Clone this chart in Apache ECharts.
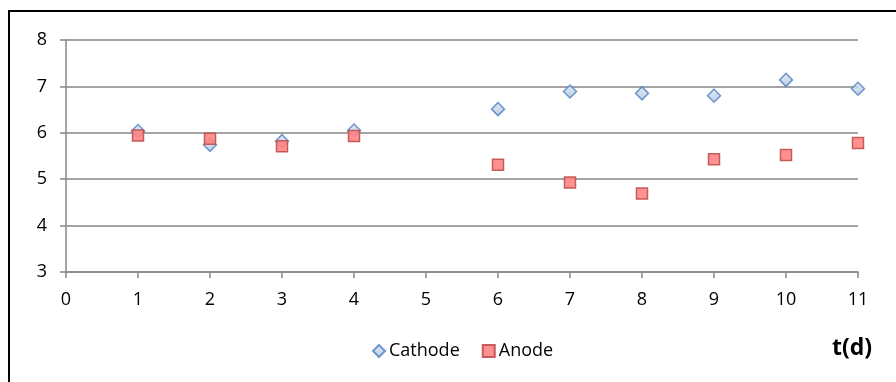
<!DOCTYPE html>
<html>
<head>
<meta charset="utf-8">
<script src="https://cdn.jsdelivr.net/npm/echarts@6/dist/echarts.min.js"></script>
<style>
  html, body { margin: 0; padding: 0; background: #fff; }
  #chart { width: 896px; height: 382px; }
</style>
</head>
<body>
<div id="chart"></div>
<script>
// 数据
const days = [1, 2, 3, 4, 6, 7, 8, 9, 10, 11];
const cathode = [6.04, 5.74, 5.82, 6.05, 6.51, 6.89, 6.85, 6.8, 7.14, 6.95];
const anode = [5.94, 5.87, 5.71, 5.93, 5.31, 4.93, 4.69, 5.43, 5.52, 5.78];
const yTicks = [3, 4, 5, 6, 7, 8];

const font = '"Open Sans", "Liberation Sans", sans-serif';
const pairs = (ys) => days.map((d, i) => [d, ys[i]]);

const myChart = echarts.init(document.getElementById('chart'));
myChart.setOption({
  animation: false,
  grid: { left: 66, right: 38, top: 40, bottom: 110, containLabel: false },
  xAxis: {
    type: 'value', min: 0, max: 11, interval: 1,
    axisLine: { show: true, onZero: false, lineStyle: { color: '#868686', width: 1.5 } },
    axisTick: { show: true, length: 6, lineStyle: { color: '#868686', width: 1.5 } },
    axisLabel: { color: '#000', fontFamily: font, fontSize: 18, margin: 19 },
    splitLine: { show: false }
  },
  yAxis: {
    type: 'value', min: yTicks[0], max: yTicks[yTicks.length - 1], interval: 1,
    axisLine: { show: true, lineStyle: { color: '#868686', width: 1.5 } },
    axisTick: { show: true, length: 6, lineStyle: { color: '#868686', width: 1.5 } },
    axisLabel: { color: '#000', fontFamily: font, fontSize: 18, margin: 19 },
    splitLine: { show: true, lineStyle: { color: '#868686', width: 1.5 } }
  },
  legend: {
    bottom: 17, left: 367,
    itemWidth: 12, itemHeight: 12, itemGap: 22,
    textStyle: { color: '#000', fontFamily: font, fontSize: 18, padding: [0, 0, 0, -1] },
    data: ['Cathode', 'Anode']
  },
  graphic: [
    {
      type: 'rect', silent: true, z: -1,
      shape: { x: 9, y: 11, width: 900, height: 400 },
      style: { fill: 'none', stroke: '#000', lineWidth: 2 }
    },
    {
      type: 'text', left: 832, top: 337,
      style: { text: 't(d)', fill: '#000', font: 'bold 23px ' + font }
    }
  ],
  series: [
    {
      name: 'Cathode', type: 'scatter', symbol: 'diamond', symbolSize: 13,
      itemStyle: {
        color: new echarts.graphic.LinearGradient(0, 0, 0, 1, [
          { offset: 0, color: '#dce6f4' }, { offset: 1, color: '#a9c1e2' }
        ]),
        borderColor: '#4f81bd', borderWidth: 1.5
      },
      data: pairs(cathode)
    },
    {
      name: 'Anode', type: 'scatter', symbol: 'rect', symbolSize: 11,
      itemStyle: { color: '#ff8585', borderColor: '#c0504d', borderWidth: 1.5, opacity: 0.9 },
      data: pairs(anode)
    }
  ]
});
window.addEventListener('resize', function () {
  myChart.resize();
});
</script>
</body>
</html>
